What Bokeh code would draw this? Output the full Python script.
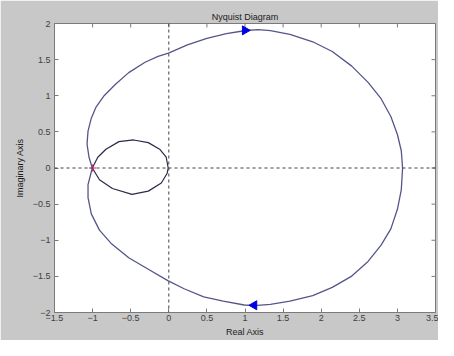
import math
from bokeh.plotting import figure
from bokeh.models import Span, LinearAxis, FixedTicker, Range1d
from bokeh.embed import file_html
from bokeh.resources import INLINE

# Outer Nyquist contour
outer_re = [-1.004, -1.047, -1.073, -1.06, -1.017, -0.953, -0.846, -0.696, -0.526, -0.312,
            -0.141, -0.004, 0.244, 0.5, 0.756, 0.97, 1.013, 1.17, 1.333, 1.59, 1.889, 2.145, 2.401,
            2.615, 2.786, 2.914, 3.0, 3.051, 3.068,
            3.051, 3.0, 2.914, 2.786, 2.615, 2.401, 2.145, 1.889, 1.59, 1.333, 1.12, 0.991,
            0.714, 0.458, 0.201, -0.013, -0.269, -0.526, -0.76, -0.91, -1.017, -1.06, -1.06,
            -1.004]
outer_im = [0.0, 0.149, 0.33, 0.51, 0.69, 0.847, 1.004, 1.162, 1.32, 1.464,
            1.545, 1.59, 1.703, 1.793, 1.86, 1.896, 1.903, 1.915, 1.9, 1.851, 1.747, 1.612, 1.41,
            1.185, 0.959, 0.712, 0.464, 0.239, 0.0,
            -0.302, -0.572, -0.842, -1.068, -1.293, -1.496, -1.653, -1.766, -1.842, -1.888, -1.905, -1.896,
            -1.842, -1.784, -1.671, -1.559, -1.401, -1.243, -1.04, -0.86, -0.635, -0.41, -0.23,
            0.0]

# Inner loop
inner_re = [-1.004, -0.932, -0.825, -0.654, -0.462, -0.269, -0.12, -0.034, -0.008,
            -0.021, -0.098, -0.269, -0.483, -0.74, -0.91, -1.004]
inner_im = [0.0, 0.149, 0.26, 0.365, 0.388, 0.351, 0.26, 0.149, 0.0,
            -0.072, -0.207, -0.32, -0.365, -0.284, -0.162, 0.0]

# Direction arrows
arrow_re = [1.0, 1.12]
arrow_im = [1.905, -1.9]
arrow_dir = [-math.pi / 2, math.pi / 2]

# Critical point
crit_re = [-1.0]
crit_im = [0.0]

x_ticks = [-1.5, -1, -0.5, 0, 0.5, 1, 1.5, 2, 2.5, 3, 3.5]
y_ticks = [-2, -1.5, -1, -0.5, 0, 0.5, 1, 1.5, 2]
x_min, x_max = -1.5, 3.5
y_min, y_max = -2, 2

BG = "#c8c8c8"
FONT = "Liberation Sans"
AX = "#7a7a7a"

p = figure(width=438, height=340, output_backend="svg", toolbar_location=None,
           x_range=Range1d(x_min, x_max), y_range=Range1d(y_min, y_max),
           x_axis_location=None, y_axis_location=None,
           min_border_left=54, min_border_right=3, min_border_top=23, min_border_bottom=28)
p.background_fill_color = "white"
p.border_fill_color = BG
p.outline_line_color = AX
p.grid.visible = False

p.title.text = "Nyquist Diagram"
p.title.align = "center"
p.title.text_font = FONT
p.title.text_font_size = "9px"
p.title.text_font_style = "normal"
p.title.text_color = "#202020"
p.title.standoff = 4
p.title.offset = 0

def style_axis(ax, ticks):
    ax.ticker = FixedTicker(ticks=ticks)
    ax.major_tick_in = 4
    ax.major_tick_out = 0
    ax.minor_tick_in = 0
    ax.minor_tick_out = 0
    ax.axis_line_color = AX
    ax.major_tick_line_color = AX
    ax.major_label_text_font = FONT
    ax.major_label_text_font_size = "9px"
    ax.major_label_text_color = "#404040"
    ax.axis_label_text_font = FONT
    ax.axis_label_text_font_size = "9px"
    ax.axis_label_text_font_style = "normal"
    ax.axis_label_text_color = "#202020"

xb = LinearAxis(axis_label="Real Axis")
style_axis(xb, x_ticks)
xb.major_label_standoff = 2
xb.axis_label_standoff = 3
p.add_layout(xb, "below")

yl = LinearAxis(axis_label="Imaginary Axis")
style_axis(yl, y_ticks)
yl.major_label_standoff = 4
yl.axis_label_standoff = 5
p.add_layout(yl, "left")

# inward ticks on top and right edges (clipped to the frame)
p.scatter(x_ticks, [y_max] * len(x_ticks), marker="dash", angle=math.pi / 2, size=8,
          line_color=AX, line_width=1)
p.scatter([x_max] * len(y_ticks), y_ticks, marker="dash", size=8,
          line_color=AX, line_width=1)

p.add_layout(Span(location=0, dimension="width", line_color="#404040", line_dash="3 3", line_width=1))
p.add_layout(Span(location=0, dimension="height", line_color="#404040", line_dash="3 3", line_width=1))

p.line(outer_re, outer_im, line_color="#55558a", line_width=1.3)
p.line(inner_re, inner_im, line_color="#2a2a4a", line_width=1.2)

p.scatter(arrow_re, arrow_im, marker="triangle", angle=arrow_dir, size=9,
          fill_color="#0000e0", line_color="#0000e0")
p.scatter(crit_re, crit_im, marker="cross", size=7, line_color="#d02060", line_width=1.2)

open("out.html", "w").write(file_html(p, INLINE))
